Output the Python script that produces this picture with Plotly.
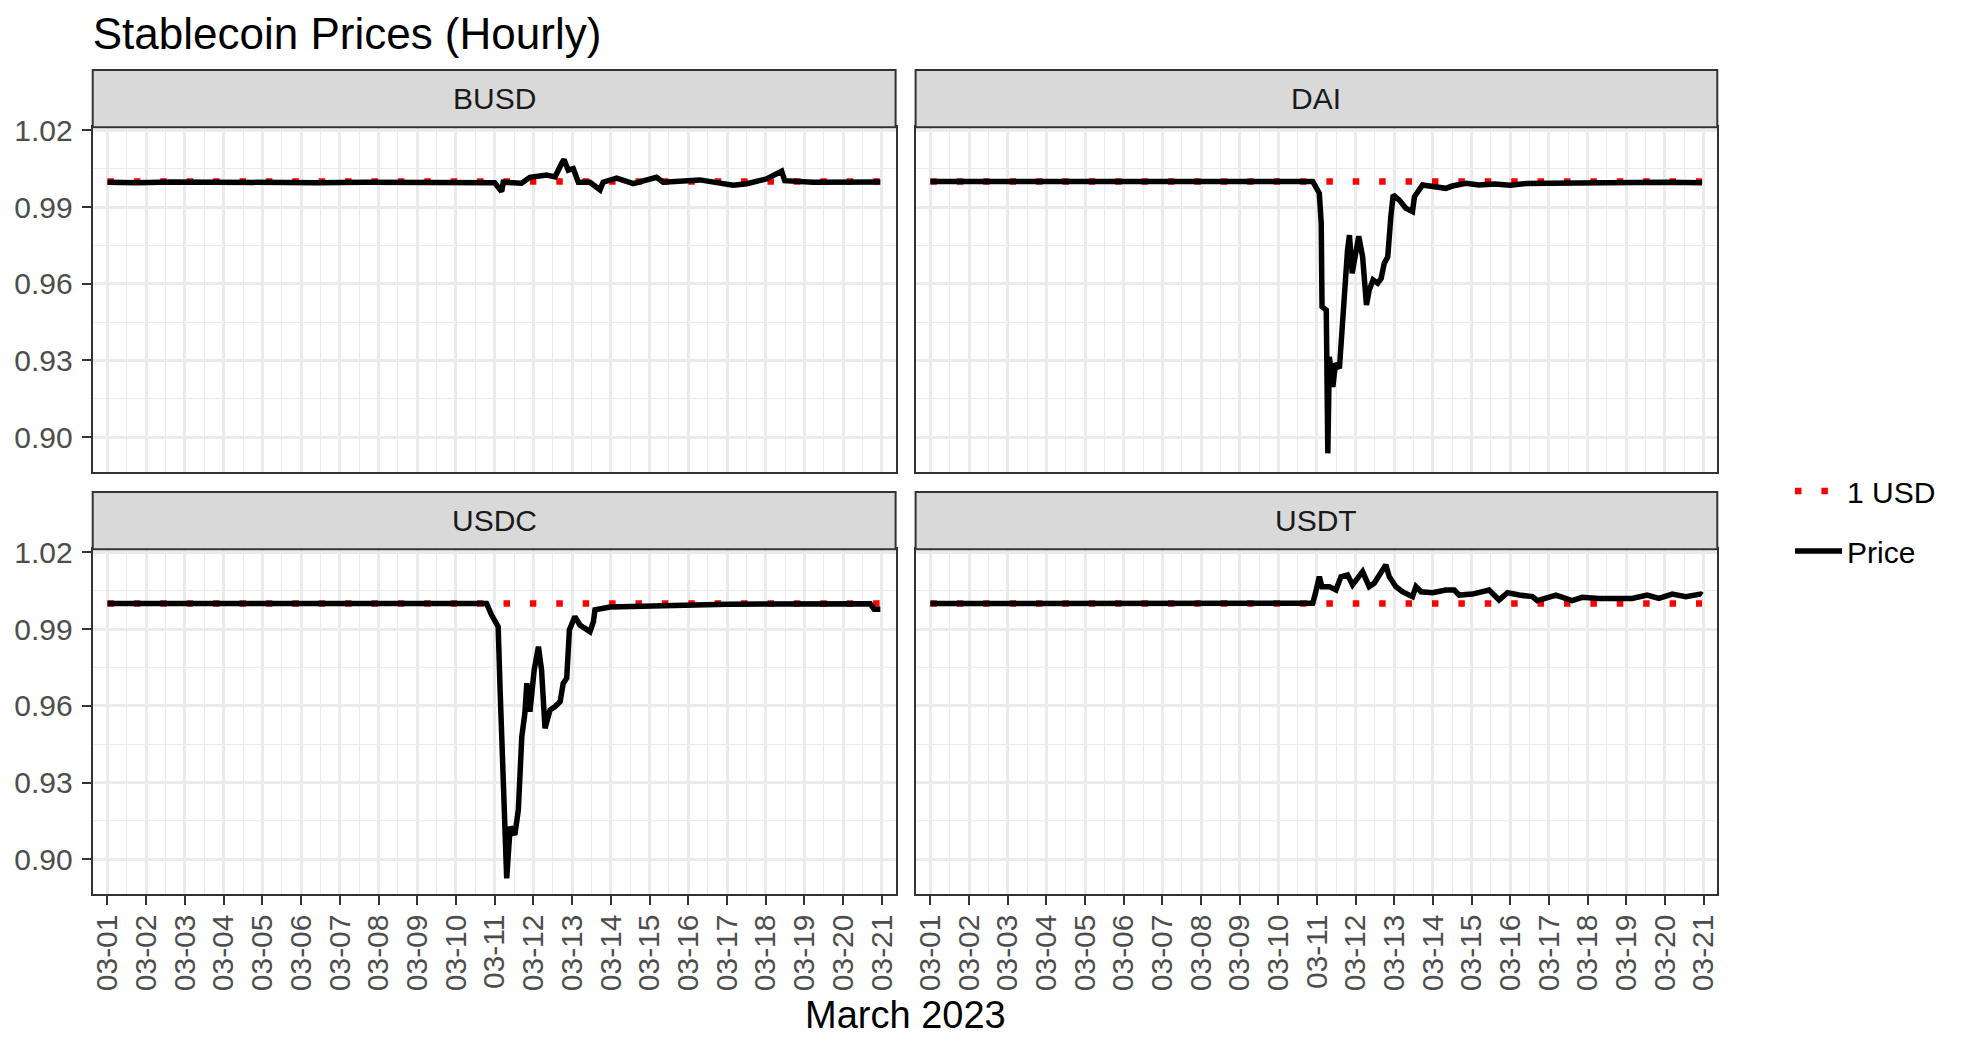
import pandas as pd
import plotly.graph_objects as go

START = pd.Timestamp("2023-03-01 00:00")
PEG = 1.0

COINS = ["BUSD", "DAI", "USDC", "USDT"]

# days since 2023-03-01 00:00 and hourly price readings
BUSD_DAYS = [0.00, 0.75, 1.67, 2.92, 4.17, 5.42, 6.67, 7.92, 8.96, 9.62, 10.00, 10.18, 10.22,
             10.69, 10.91, 11.34, 11.56, 11.73, 11.79, 11.90, 12.03, 12.16, 12.46, 12.72, 12.80,
             13.15, 13.58, 14.18, 14.35, 15.30, 16.16, 16.51, 17.02, 17.41, 17.49, 18.23, 18.96, 19.96]
BUSD_PRICE = [0.9997, 0.9995, 0.9998, 0.9996, 0.9998, 0.9995, 0.9997, 0.9996, 0.9998, 0.9997, 0.9995, 0.9960, 0.9997,
              0.9993, 1.0016, 1.0025, 1.0018, 1.0071, 1.0086, 1.0044, 1.0050, 0.9997, 0.9997, 0.9967, 0.9997,
              1.0013, 0.9991, 1.0016, 0.9997, 1.0006, 0.9985, 0.9991, 1.0010, 1.0040, 1.0003, 0.9997, 0.9998, 0.9998]

DAI_DAYS = [0.00, 3.00, 6.00, 9.89, 10.06, 10.11, 10.13, 10.24, 10.28, 10.32, 10.41, 10.48, 10.58,
            10.71, 10.79, 10.84, 10.91, 10.97, 11.08, 11.18, 11.28, 11.35, 11.45, 11.57, 11.66, 11.74,
            11.83, 11.91, 11.97, 12.13, 12.30, 12.47, 12.52, 12.73, 12.99, 13.33, 13.50, 13.85, 14.19,
            14.60, 15.00, 15.40, 16.00, 17.00, 18.00, 19.00, 19.96]
DAI_PRICE = [1.0000, 1.0000, 1.0001, 1.0000, 0.9954, 0.9836, 0.9510, 0.9497, 0.8937, 0.9314, 0.9197, 0.9289, 0.9269,
             0.9575, 0.9732, 0.9790, 0.9641, 0.9693, 0.9786, 0.9705, 0.9517, 0.9575, 0.9615, 0.9602, 0.9621, 0.9680,
             0.9705, 0.9862, 0.9947, 0.9927, 0.9895, 0.9882, 0.9940, 0.9986, 0.9982, 0.9973, 0.9982, 0.9993, 0.9986,
             0.9990, 0.9985, 0.9992, 0.9993, 0.9996, 0.9997, 0.9997, 0.9995]

USDC_DAYS = [0.00, 2.20, 2.30, 9.79, 9.92, 10.09, 10.14, 10.18, 10.27, 10.31, 10.40, 10.52, 10.61,
             10.70, 10.78, 10.83, 10.91, 11.02, 11.13, 11.21, 11.30, 11.43, 11.56, 11.69, 11.77, 11.86,
             11.93, 12.07, 12.20, 12.46, 12.55, 12.59, 12.98, 13.41, 13.84, 14.27, 15.00, 16.00, 17.00,
             18.00, 19.00, 19.70, 19.80, 19.96]
USDC_PRICE = [1.0000, 1.0001, 1.0000, 1.0000, 0.9955, 0.9909, 0.9662, 0.9479, 0.9101, 0.8925, 0.9127, 0.9095, 0.9192,
              0.9479, 0.9571, 0.9688, 0.9577, 0.9740, 0.9831, 0.9740, 0.9512, 0.9584, 0.9597, 0.9616, 0.9688, 0.9708,
              0.9897, 0.9949, 0.9916, 0.9890, 0.9929, 0.9975, 0.9986, 0.9988, 0.9990, 0.9988, 0.9996, 0.9997, 0.9998,
              0.9998, 0.9998, 0.9999, 0.9978, 0.9978]

USDT_DAYS = [0.00, 9.00, 9.89, 9.96, 10.06, 10.13, 10.32, 10.49, 10.62, 10.79, 10.92, 11.18, 11.35,
             11.48, 11.66, 11.78, 11.87, 12.04, 12.21, 12.47, 12.56, 12.69, 12.99, 13.33, 13.55, 13.68,
             14.02, 14.45, 14.71, 14.93, 15.23, 15.57, 15.70, 16.18, 16.60, 16.86, 17.29, 18.15, 18.54,
             18.84, 19.19, 19.54, 19.92, 19.96]
USDT_PRICE = [1.0000, 1.0000, 1.0001, 1.0040, 1.0105, 1.0066, 1.0066, 1.0053, 1.0105, 1.0112, 1.0073, 1.0125, 1.0066,
              1.0079, 1.0118, 1.0151, 1.0105, 1.0066, 1.0046, 1.0027, 1.0066, 1.0046, 1.0042, 1.0053, 1.0053, 1.0033,
              1.0037, 1.0053, 1.0014, 1.0042, 1.0033, 1.0027, 1.0011, 1.0033, 1.0011, 1.0024, 1.0020, 1.0020, 1.0033,
              1.0020, 1.0037, 1.0027, 1.0037, 1.0033]

Y_TICKS = [0.90, 0.93, 0.96, 0.99, 1.02]
Y_TICK_LABELS = ["0.90", "0.93", "0.96", "0.99", "1.02"]
X_TICK_LABELS = ["03-01", "03-02", "03-03", "03-04", "03-05", "03-06", "03-07", "03-08", "03-09", "03-10",
                 "03-11", "03-12", "03-13", "03-14", "03-15", "03-16", "03-17", "03-18", "03-19", "03-20", "03-21"]

SERIES = {
    "BUSD": (BUSD_DAYS, BUSD_PRICE),
    "DAI": (DAI_DAYS, DAI_PRICE),
    "USDC": (USDC_DAYS, USDC_PRICE),
    "USDT": (USDT_DAYS, USDT_PRICE),
}

FONT = "Liberation Sans, Arial, sans-serif"
W, H = 1964, 1049
OFF = 8  # page body margin


def px_x(p):
    return (p - OFF) / W


def px_y(p):
    return 1 - (p - OFF) / H


XDOM = [[px_x(92.7), px_x(895.6)], [px_x(915.6), px_x(1717.3)]]
YDOM = [[px_y(471.5), px_y(127.2)], [px_y(893.5), px_y(549.3)]]
STRIP_TOP = 1 + 57.2 / 344.3

x_tickvals = [pd.Timestamp("2023-" + t) for t in X_TICK_LABELS]
x_range = [START + pd.Timedelta(days=-0.382), START + pd.Timedelta(days=20.354)]
y_range = [0.8866, 1.0212]

fig = go.Figure()
layout = {}
shapes = []
annotations = []

for i, coin in enumerate(COINS):
    days, price = SERIES[coin]
    row, col = divmod(i, 2)
    sfx = "" if i == 0 else str(i + 1)
    xs = START + pd.to_timedelta(days, unit="D")
    peg_x = [xs.min(), xs.max()]
    fig.add_trace(go.Scatter(
        x=peg_x, y=[PEG, PEG], mode="lines", name="1 USD", legendgroup="usd",
        showlegend=(i == 0), line=dict(color="#FF0000", width=6.5, dash="6.5px,19.9px"),
        xaxis="x" + sfx, yaxis="y" + sfx, hoverinfo="skip"))
    fig.add_trace(go.Scatter(
        x=xs, y=price, mode="lines", name="Price", legendgroup="price",
        showlegend=(i == 0), line=dict(color="black", width=5.5),
        xaxis="x" + sfx, yaxis="y" + sfx))

    layout["xaxis" + sfx] = dict(
        domain=XDOM[col], anchor="y" + sfx, range=x_range, type="date", automargin=False,
        tickmode="array", tickvals=x_tickvals, ticktext=X_TICK_LABELS,
        showticklabels=(row == 1), ticks="outside" if row == 1 else "",
        ticklen=9, tickwidth=2.4, tickcolor="#333333", tickangle=-90,
        tickfont=dict(family=FONT, size=30, color="#4D4D4D"), ticklabelstandoff=-2,
        showline=True, mirror=True, linecolor="#333333", linewidth=2,
        showgrid=True, gridcolor="#EBEBEB", gridwidth=2.6, zeroline=False,
        minor=dict(tickmode="linear", tick0="2023-03-01 12:00", dtick=86400000,
                   showgrid=True, gridcolor="#EBEBEB", gridwidth=1.3, ticks=""),
    )
    layout["yaxis" + sfx] = dict(
        domain=YDOM[row], anchor="x" + sfx, range=y_range, automargin=False,
        tickmode="array", tickvals=Y_TICKS, ticktext=Y_TICK_LABELS,
        showticklabels=(col == 0), ticks="outside" if col == 0 else "",
        ticklen=9, tickwidth=2.4, tickcolor="#333333",
        tickfont=dict(family=FONT, size=30, color="#4D4D4D"), ticklabelstandoff=3,
        showline=True, mirror=True, linecolor="#333333", linewidth=2,
        showgrid=True, gridcolor="#EBEBEB", gridwidth=2.6, zeroline=False,
        minor=dict(tickmode="linear", tick0=0.885, dtick=0.03,
                   showgrid=True, gridcolor="#EBEBEB", gridwidth=1.3, ticks=""),
    )
    shapes.append(dict(type="rect", xref="x" + sfx + " domain", yref="y" + sfx + " domain",
                       x0=0, x1=1, y0=1, y1=STRIP_TOP, fillcolor="#D9D9D9",
                       line=dict(color="#333333", width=2), layer="above"))
    annotations.append(dict(xref="x" + sfx + " domain", yref="y" + sfx + " domain",
                            x=0.5, y=(1 + STRIP_TOP) / 2, text=coin, showarrow=False,
                            xanchor="center", yanchor="middle",
                            font=dict(family=FONT, size=30, color="#1A1A1A")))

annotations.append(dict(xref="paper", yref="paper", x=px_x(905), y=px_y(1014.6),
                        text="March 2023", showarrow=False, xanchor="center", yanchor="middle",
                        font=dict(family=FONT, size=38, color="black")))

fig.update_layout(
    template="none",
    width=W, height=H, autosize=False,
    margin=dict(l=0, r=0, t=0, b=0, pad=0),
    paper_bgcolor="white", plot_bgcolor="white",
    font=dict(family=FONT, color="black"),
    title=dict(text="Stablecoin Prices (Hourly)", x=px_x(92.7), xanchor="left",
               y=px_y(33.5), yanchor="middle", automargin=False,
               font=dict(family=FONT, size=44, color="black")),
    legend=dict(x=px_x(1790), y=px_y(521), xanchor="left", yanchor="middle",
                font=dict(family=FONT, size=30, color="black"), itemwidth=47,
                tracegroupgap=18, bgcolor="rgba(0,0,0,0)", borderwidth=0),
    shapes=shapes, annotations=annotations, showlegend=True,
    hovermode=False,
    **layout,
)

fig.write_html("out.html")
